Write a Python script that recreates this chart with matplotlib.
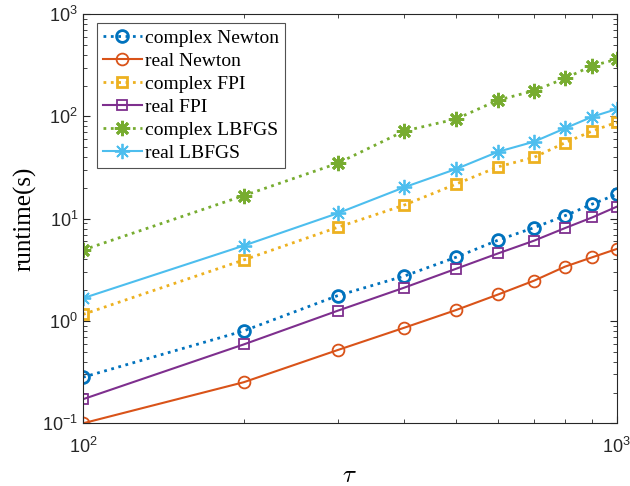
import numpy as np
import matplotlib.pyplot as plt
from matplotlib.ticker import NullFormatter

tau = [100, 200, 300, 400, 500, 600, 700, 800, 900, 1000]

complex_newton = [0.282, 0.80, 1.77, 2.75, 4.2, 6.19, 8.17, 10.7, 13.9, 17.3]
real_newton = [0.1, 0.252, 0.52, 0.86, 1.28, 1.82, 2.48, 3.4, 4.2, 5.06]
complex_fpi = [1.16, 3.95, 8.24, 13.6, 21.8, 32.2, 39.8, 55.3, 72, 87.6]
real_fpi = [0.172, 0.59, 1.26, 2.12, 3.24, 4.59, 6.1, 8.1, 10.3, 13.1]
complex_lbfgs = [4.94, 16.8, 34.8, 72, 94.3, 144.6, 178, 235.6, 313, 361]
real_lbfgs = [1.67, 5.45, 11.3, 20.3, 30.6, 45.2, 56.6, 76.5, 99.3, 118]

plt.rcParams['font.family'] = ['Liberation Sans', 'DejaVu Sans']
plt.rcParams['mathtext.fontset'] = 'cm'

fig = plt.figure(figsize=(6.3, 4.86), dpi=100)
ax = fig.add_axes([0.1317, 0.129, 0.8473, 0.842])

asterisk = (8, 2, 0)
ax.plot(tau, complex_newton, ':', color='#0072BD', lw=2, marker='o', ms=8.5,
        mfc='none', mew=2, label='complex Newton')
ax.plot(tau, real_newton, '-', color='#D95319', lw=1.5, marker='o', ms=8.5,
        mfc='none', mew=1.3, label='real Newton')
ax.plot(tau, complex_fpi, ':', color='#EDB120', lw=2, marker='s', ms=7,
        mfc='none', mew=2, label='complex FPI')
ax.plot(tau, real_fpi, '-', color='#7E2F8E', lw=1.5, marker='s', ms=7,
        mfc='none', mew=1.3, label='real FPI')
ax.plot(tau, complex_lbfgs, ':', color='#77AC30', lw=2, marker=asterisk, ms=11,
        mew=2, label='complex LBFGS')
ax.plot(tau, real_lbfgs, '-', color='#4DBEEE', lw=1.5, marker=asterisk, ms=11,
        mew=1.3, label='real LBFGS')

ax.set_xscale('log')
ax.set_yscale('log')
ax.set_xlim(100, 1000)
ax.set_ylim(0.1, 1000)
ax.xaxis.set_minor_formatter(NullFormatter())

for sp in ax.spines.values():
    sp.set_color('#262626')
    sp.set_linewidth(0.8)
ax.tick_params(which='both', direction='in', top=True, right=True,
               colors='#262626', labelsize=13)
ax.tick_params(which='major', length=5)
ax.tick_params(which='minor', length=3)
ax.tick_params(axis='x', pad=10)

ax.set_xlabel(r'$\tau$', fontsize=18)
ax.set_ylabel('runtime(s)', fontsize=18, family='Liberation Serif')

leg = ax.legend(loc='upper left', bbox_to_anchor=(0.026, 0.978),
                prop={'family': 'Liberation Serif', 'size': 14},
                frameon=True, fancybox=False, edgecolor='#262626',
                handlelength=2.0, labelspacing=0.28, borderpad=0.3,
                handletextpad=0.2, borderaxespad=0)
leg.get_frame().set_linewidth(0.8)

fig.savefig('out.png', dpi=100)
